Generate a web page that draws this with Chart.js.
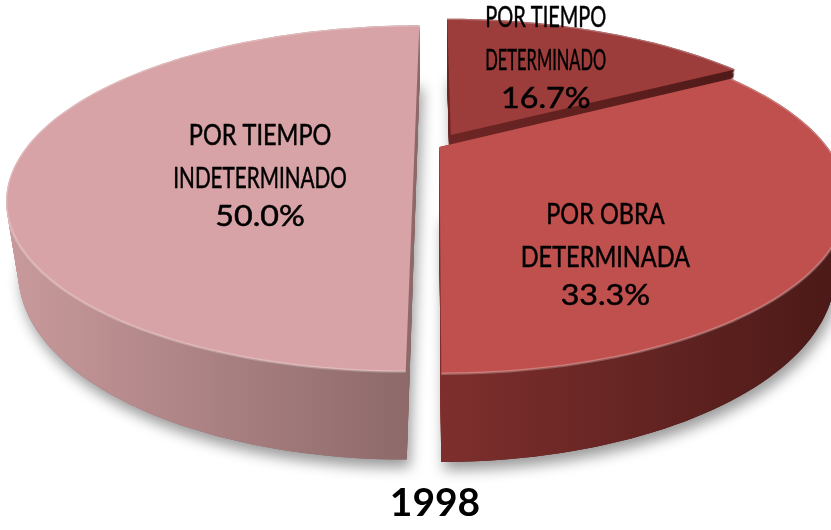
<!DOCTYPE html>
<html>
<head>
<meta charset="utf-8">
<script src="https://cdn.jsdelivr.net/npm/chart.js@4.4.1/dist/chart.umd.min.js"></script>
<style>
  html, body { margin: 0; padding: 0; background: #fff; }
  #wrap { width: 831px; height: 530px; }
</style>
</head>
<body>
<div id="wrap"><canvas id="myChart"></canvas></div>
<script>
const labels = [['POR TIEMPO', 'DETERMINADO'], ['POR OBRA', 'DETERMINADA'], ['POR TIEMPO', 'INDETERMINADO']];
const values = [16.7, 33.3, 50.0];
const chartTitle = '1998';

const topColors = ['#9d3d3b', '#c0504d', '#d8a3a6'];
const sideColors = [['#6e2624', '#4f1a19'], ['#7e2f2d', '#4a1917'], ['#c99a9c', '#8c6869']];
const explode = [19, 3, 12];
// small label nudges (px) from the face centroid, like the hand-placed labels in the original
const labelNudge = [[-6, -8], [-23, 31], [20, -19]];

// fake 3D camera (units = pie radius)
const CAM = { dist: 3.015, sin: 0.406, cos: 0.9135, focal: 5.13, depth: 0.197, top: 146 };

const pie3d = {
  id: 'pie3d',
  beforeDatasetsDraw(chart) {
    const ctx = chart.ctx;
    const arcs = chart.getDatasetMeta(0).data;
    if (!arcs.length) return false;
    const R = arcs[0].outerRadius;
    const cx = arcs[0].x;
    const cy = chart.chartArea.top + CAM.top;
    const F = CAM.focal * R;
    const H = CAM.depth;
    const proj = (X, Z, Y) => {
      const d = CAM.dist - Y * CAM.sin - Z * CAM.cos;
      return [cx + F * X / d, cy + F * (Z * CAM.sin - Y * CAM.cos) / d];
    };
    const slices = arcs.map((arc, i) => {
      const mid = (arc.startAngle + arc.endAngle) / 2;
      const e = (arc.options.offset || 0) / R;
      return { i, arc, mid, ex: Math.cos(mid) * e, ez: Math.sin(mid) * e };
    });
    const outline = (s, Y) => {
      const a0 = s.arc.startAngle, a1 = s.arc.endAngle;
      const n = Math.max(8, Math.ceil((a1 - a0) * 40));
      const pts = [proj(s.ex, s.ez, Y)];
      for (let k = 0; k <= n; k++) {
        const a = a0 + (a1 - a0) * k / n;
        pts.push(proj(s.ex + Math.cos(a), s.ez + Math.sin(a), Y));
      }
      return pts;
    };
    const path = (pts) => {
      ctx.beginPath();
      pts.forEach((p, k) => k ? ctx.lineTo(p[0], p[1]) : ctx.moveTo(p[0], p[1]));
      ctx.closePath();
    };
    slices.sort((a, b) => (a.ez + Math.sin(a.mid) * 0.5) - (b.ez + Math.sin(b.mid) * 0.5));

    ctx.save();
    // ground shadow
    ctx.shadowColor = 'rgba(0,0,0,0.4)';
    ctx.shadowBlur = 14;
    ctx.shadowOffsetX = 3;
    ctx.shadowOffsetY = 8;
    slices.forEach(s => {
      ctx.fillStyle = sideColors[s.i][1];
      path(outline(s, -H));
      ctx.fill();
    });
    ctx.shadowColor = 'transparent';

    slices.forEach(s => {
      const topPts = outline(s, 0);
      const xs = topPts.map(p => p[0]);
      const g = ctx.createLinearGradient(Math.min(...xs), 0, Math.max(...xs), 0);
      g.addColorStop(0, sideColors[s.i][0]);
      g.addColorStop(1, sideColors[s.i][1]);
      ctx.fillStyle = g;
      const steps = 50;
      for (let k = 0; k <= steps; k++) {
        path(outline(s, -H + H * k / steps));
        ctx.fill();
      }
      ctx.fillStyle = topColors[s.i];
      path(topPts);
      ctx.fill();
      // soft rim highlight
      ctx.strokeStyle = 'rgba(255,255,255,0.25)';
      ctx.lineWidth = 2.5;
      ctx.beginPath();
      topPts.slice(1).forEach((p, k) => k ? ctx.lineTo(p[0], p[1]) : ctx.moveTo(p[0], p[1]));
      ctx.stroke();
      s.top = topPts;
      s.w = Math.max(...xs) - Math.min(...xs);
    });

    // labels near the centroid of each top face
    ctx.fillStyle = '#000';
    ctx.strokeStyle = '#000';
    ctx.lineWidth = 0.5;
    ctx.textAlign = 'center';
    ctx.textBaseline = 'middle';
    slices.forEach(s => {
      let A = 0, gx = 0, gy = 0;
      const p = s.top;
      for (let k = 0; k < p.length; k++) {
        const [x0, y0] = p[k], [x1, y1] = p[(k + 1) % p.length];
        const c = x0 * y1 - x1 * y0;
        A += c; gx += (x0 + x1) * c; gy += (y0 + y1) * c;
      }
      gx = gx / (3 * A) + labelNudge[s.i][0];
      gy = gy / (3 * A) + labelNudge[s.i][1];
      const name = chart.data.labels[s.i];
      const pct = chart.data.datasets[0].data[s.i].toFixed(1) + '%';
      ctx.font = '28px Lato, "Open Sans", sans-serif';
      name.forEach((t, k) => {
        const y = gy + (k - name.length + 1) * 43;
        const natural = ctx.measureText(t).width;
        const w = Math.min(natural * 0.84, s.w * 0.42);
        ctx.save();
        ctx.translate(gx, y);
        ctx.scale(w / natural, 1);
        ctx.fillText(t, 0, 0);
        ctx.strokeText(t, 0, 0);
        ctx.restore();
      });
      ctx.save();
      ctx.translate(gx, gy + 38);
      ctx.scale(1.15, 1);
      ctx.fillText(pct, 0, 0);
      ctx.strokeText(pct, 0, 0);
      ctx.restore();
    });
    ctx.restore();
    return false;
  }
};

const ctx = document.getElementById('myChart').getContext('2d');
const chart = new Chart(ctx, {
  type: 'pie',
  data: {
    labels: labels,
    datasets: [{
      data: values,
      backgroundColor: topColors,
      offset: explode,
      borderWidth: 0
    }]
  },
  options: {
    responsive: true,
    maintainAspectRatio: false,
    animation: false,
    events: [],
    layout: { padding: { left: 39 } },
    plugins: {
      legend: { display: false },
      tooltip: { enabled: false },
      title: {
        display: true,
        position: 'bottom',
        text: chartTitle,
        color: '#000',
        padding: { top: 6, bottom: 3 },
        font: { family: 'Lato, "Open Sans", sans-serif', size: 39, weight: 'bold' }
      }
    }
  },
  plugins: [pie3d]
});
</script>
</body>
</html>
